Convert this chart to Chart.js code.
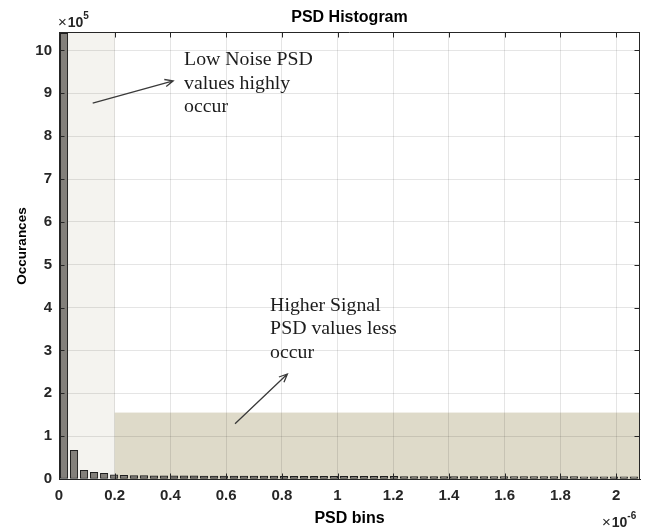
<!DOCTYPE html>
<html>
<head>
<meta charset="utf-8">
<script src="https://cdn.jsdelivr.net/npm/chart.js@4/dist/chart.umd.min.js"></script>
<style>
  html, body { margin: 0; padding: 0; background: #ffffff; }
  canvas { display: block; }
</style>
</head>
<body>
<canvas id="psd" width="651" height="528"></canvas>
<script>
// PSD bin centres (in units of 1e-6)
const binCenters = [
  0.018, 0.054, 0.090, 0.126, 0.162, 0.198, 0.233, 0.269, 0.305, 0.341,
  0.377, 0.413, 0.449, 0.485, 0.521, 0.557, 0.592, 0.628, 0.664, 0.700,
  0.736, 0.772, 0.808, 0.844, 0.880, 0.916, 0.951, 0.987, 1.023, 1.059,
  1.095, 1.131, 1.167, 1.203, 1.239, 1.275, 1.310, 1.346, 1.382, 1.418,
  1.454, 1.490, 1.526, 1.562, 1.598, 1.634, 1.669, 1.705, 1.741, 1.777,
  1.813, 1.849, 1.885, 1.921, 1.957, 1.993, 2.028, 2.064
];

// Occurrence count in each bin
const occurrences = [
  1040000, 67000, 20000, 15500, 13000, 9500, 8500, 8000, 7800, 7600,
  7500, 7400, 7300, 7200, 7100, 7000, 6900, 6900, 6800, 6700,
  6700, 6600, 6500, 6500, 6400, 6400, 6300, 6300, 6200, 6200,
  6100, 6100, 6000, 6000, 5900, 5900, 5900, 5800, 5800, 5800,
  5700, 5700, 5700, 5600, 5600, 5600, 5500, 5500, 5500, 5400,
  5400, 5400, 5300, 5300, 5300, 5200, 5200, 5200
];

// Axis ticks
const xTicks = [0, 0.2, 0.4, 0.6, 0.8, 1, 1.2, 1.4, 1.6, 1.8, 2];
const yTicks = [0, 100000, 200000, 300000, 400000, 500000, 600000, 700000, 800000, 900000, 1000000];
const xTickLabels = ['0', '0.2', '0.4', '0.6', '0.8', '1', '1.2', '1.4', '1.6', '1.8', '2'];
const yTickLabels = ['0', '1', '2', '3', '4', '5', '6', '7', '8', '9', '10'];

// Axis limits
const X_MIN = 0, X_MAX = 2.086;
const Y_MIN = 0, Y_MAX = 1043000;

// Highlighted regions
const lowNoiseBand = { x: [0, 0.2], y: [Y_MIN, Y_MAX] };
const highSignalBand = { x: [0.2, X_MAX], y: [0, 155000] };

// Callout arrows (tail -> head) and their notes
const arrows = [
  { from: [0.121, 877000], to: [0.410, 929000] },
  { from: [0.632, 129000], to: [0.820, 245000] }
];
const notes = [
  { at: [0.449, 977000], lines: ['Low Noise PSD', 'values highly', 'occur'] },
  { at: [0.758, 403500], lines: ['Higher Signal', 'PSD values less', 'occur'] }
];

const INK = '#262626';
const SANS = '"Liberation Sans", Arial, Helvetica, sans-serif';
const SERIF = '"Liberation Serif", "Times New Roman", serif';

const decor = {
  id: 'decor',
  beforeDraw(chart) {
    const { ctx, scales: { x, y } } = chart;
    ctx.save();
    // shaded regions sit underneath the grid and the bars
    const bands = [
      { band: lowNoiseBand, color: '#f4f3ef' },
      { band: highSignalBand, color: '#dedac9' }
    ];
    bands.forEach(({ band, color }) => {
      const l = x.getPixelForValue(band.x[0]);
      const r = x.getPixelForValue(band.x[1]);
      const t = y.getPixelForValue(band.y[1]);
      const b = y.getPixelForValue(band.y[0]);
      ctx.fillStyle = color;
      ctx.fillRect(l, t, r - l, b - t);
    });
    ctx.restore();
  },
  afterDraw(chart) {
    const { ctx, chartArea: a, scales: { x, y } } = chart;
    ctx.save();

    // box and inward tick marks
    ctx.strokeStyle = INK;
    ctx.lineWidth = 1;
    ctx.beginPath();
    ctx.moveTo(a.left, a.top + 0.5); ctx.lineTo(a.right, a.top + 0.5);
    ctx.moveTo(a.right - 0.5, a.top); ctx.lineTo(a.right - 0.5, a.bottom);
    const tl = 5.5;
    xTicks.forEach(v => {
      const px = Math.round(x.getPixelForValue(v)) + 0.5;
      ctx.moveTo(px, a.bottom); ctx.lineTo(px, a.bottom - tl);
      ctx.moveTo(px, a.top); ctx.lineTo(px, a.top + tl);
    });
    yTicks.forEach(v => {
      const py = Math.round(y.getPixelForValue(v)) + 0.5;
      ctx.moveTo(a.left, py); ctx.lineTo(a.left + tl, py);
      ctx.moveTo(a.right, py); ctx.lineTo(a.right - tl, py);
    });
    ctx.stroke();

    // callout arrows
    ctx.strokeStyle = '#3a3a3a';
    ctx.lineWidth = 1.3;
    arrows.forEach(({ from, to }) => {
      const x0 = x.getPixelForValue(from[0]), y0 = y.getPixelForValue(from[1]);
      const x1 = x.getPixelForValue(to[0]), y1 = y.getPixelForValue(to[1]);
      const ang = Math.atan2(y1 - y0, x1 - x0);
      const hl = 9, spread = 0.42;
      ctx.beginPath();
      ctx.moveTo(x0, y0); ctx.lineTo(x1, y1);
      ctx.moveTo(x1 - hl * Math.cos(ang - spread), y1 - hl * Math.sin(ang - spread));
      ctx.lineTo(x1, y1);
      ctx.lineTo(x1 - hl * Math.cos(ang + spread), y1 - hl * Math.sin(ang + spread));
      ctx.stroke();
    });

    // callout notes
    ctx.fillStyle = '#1c1c1c';
    ctx.font = '18px ' + SERIF;
    ctx.textBaseline = 'middle';
    ctx.textAlign = 'left';
    notes.forEach(({ at, lines }) => {
      const px = x.getPixelForValue(at[0]);
      const py = y.getPixelForValue(at[1]);
      lines.forEach((txt, i) => {
        ctx.save();
        ctx.translate(px, py + i * 23.5);
        ctx.scale(1.1, 1);
        ctx.fillText(txt, 0, 0);
        ctx.restore();
      });
    });

    // y axis label
    ctx.fillStyle = '#000';
    ctx.font = 'bold 13.5px ' + SANS;
    ctx.textAlign = 'center';
    ctx.textBaseline = 'middle';
    ctx.save();
    ctx.translate(22, 246);
    ctx.rotate(-Math.PI / 2);
    ctx.fillText('Occurances', 0, 0);
    ctx.restore();

    // axis exponents
    const exponent = (px, py, base, power) => {
      ctx.textAlign = 'left';
      ctx.textBaseline = 'alphabetic';
      ctx.fillStyle = INK;
      ctx.font = '15px ' + SANS;
      ctx.fillText('\u00d7', px, py);
      let cx = px + ctx.measureText('\u00d7').width + 1;
      ctx.font = 'bold 14px ' + SANS;
      ctx.fillText(base, cx, py);
      cx += ctx.measureText(base).width;
      ctx.font = 'bold 10px ' + SANS;
      ctx.fillText(power, cx, py - 8);
    };
    exponent(a.left - 1, a.top - 5, '10', '5');
    exponent(a.right - 38, 527, '10', '-6');

    ctx.restore();
  }
};

new Chart(document.getElementById('psd'), {
  type: 'bar',
  data: {
    datasets: [{
      label: 'Occurances',
      data: binCenters.map((c, i) => ({ x: c, y: occurrences[i] })),
      backgroundColor: '#83807b',
      borderColor: '#1e1e1e',
      borderWidth: 1,
      borderSkipped: false,
      barThickness: 7.5
    }]
  },
  plugins: [decor],
  options: {
    responsive: false,
    animation: false,
    devicePixelRatio: 1,
    layout: { padding: { left: 0, right: 11, top: 0, bottom: 0 } },
    plugins: {
      legend: { display: false },
      tooltip: { enabled: false },
      title: {
        display: true,
        text: 'PSD Histogram',
        fullSize: false,
        color: '#000',
        font: { family: SANS, size: 16, weight: 'bold' },
        padding: { top: 8, bottom: 4.8 }
      }
    },
    scales: {
      x: {
        type: 'linear',
        min: X_MIN,
        max: X_MAX,
        offset: false,
        afterFit: s => { s.height = 49; },
        afterBuildTicks: s => { s.ticks = xTicks.map(v => ({ value: v })); },
        grid: { offset: false, color: 'rgba(0,0,0,0.1)', drawTicks: false },
        border: { display: true, color: INK, width: 1 },
        ticks: {
          padding: 8,
          maxRotation: 0,
          autoSkip: false,
          color: INK,
          font: { family: SANS, size: 15, weight: 'bold' },
          callback: (v, i) => xTickLabels[i]
        },
        title: {
          display: true,
          text: 'PSD bins',
          color: '#000',
          font: { family: SANS, size: 16, weight: 'bold' },
          padding: { top: 0, bottom: 0 }
        }
      },
      y: {
        type: 'linear',
        min: Y_MIN,
        max: Y_MAX,
        afterFit: s => { s.width = 59; },
        afterBuildTicks: s => { s.ticks = yTicks.map(v => ({ value: v })); },
        grid: { color: 'rgba(0,0,0,0.1)', drawTicks: false },
        border: { display: true, color: INK, width: 1 },
        ticks: {
          padding: 7,
          autoSkip: false,
          color: INK,
          font: { family: SANS, size: 15, weight: 'bold' },
          callback: (v, i) => yTickLabels[i]
        }
      }
    }
  }
});
</script>
</body>
</html>
